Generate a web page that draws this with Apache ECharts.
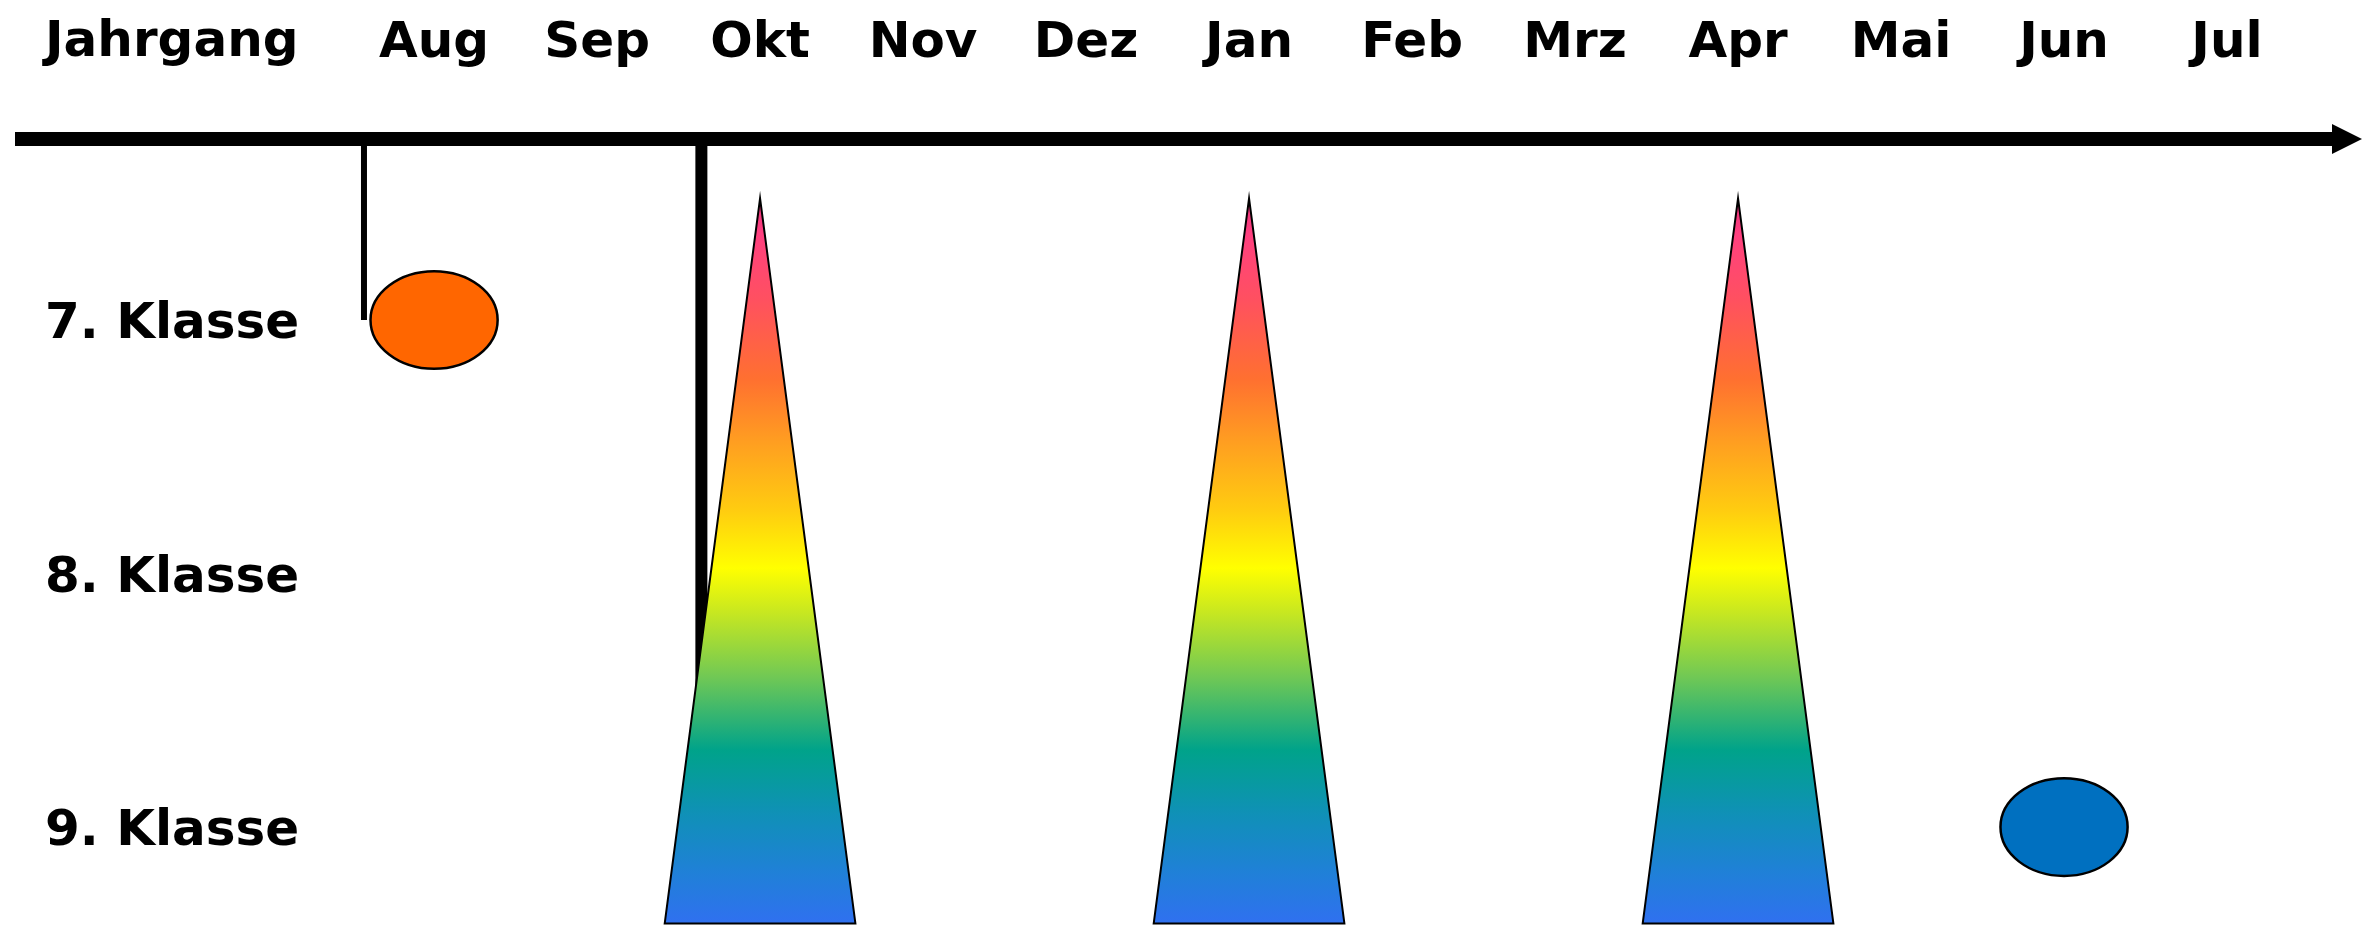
<!DOCTYPE html>
<html>
<head>
<meta charset="utf-8">
<script src="https://cdn.jsdelivr.net/npm/echarts@6/dist/echarts.min.js"></script>
<style>
  html, body { margin: 0; padding: 0; background: #fff; }
  #chart { width: 2372px; height: 926px; }
</style>
</head>
<body>
<div id="chart"></div>
<script>
// ---- data ----
const months = ['Aug', 'Sep', 'Okt', 'Nov', 'Dez', 'Jan', 'Feb', 'Mrz', 'Apr', 'Mai', 'Jun', 'Jul'];
const grades = ['7. Klasse', '8. Klasse', '9. Klasse'];
const headerLabel = 'Jahrgang';
// single events (month, grade)
const eventMonths = ['Aug', 'Jun'];
const eventGrades = ['7. Klasse', '9. Klasse'];
// peak phases (months)
const peakMonths = ['Okt', 'Jan', 'Apr'];
// start markers hanging from the time axis (month position, grade position where they end)
const markerMonthPos = [-0.43, 1.64];
const markerGradePos = [0, 1.48];

// ---- styling / geometry (axis units) ----
const FONT = { fontFamily: 'DejaVu Sans', fontWeight: 'bold', fontSize: 50, color: '#000' };
const X_MIN = -2.571, X_MAX = 11.736;
const Y_MIN = -0.714, Y_MAX = 2.39;
const PEAK_TOP = -0.48, PEAK_BASE = 2.38, PEAK_HALF = 0.585;
const ELL_W = 0.78, ELL_H = 0.385;
const eventColors = ['#FF6600', '#0070C0'];
const markerWidths = [6, 12];
const rainbow = {
  type: 'linear', x: 0, y: 0, x2: 0, y2: 1,
  colorStops: [
    { offset: 0.00, color: '#E8307A' },
    { offset: 0.05, color: '#FF4080' },
    { offset: 0.14, color: '#FF5060' },
    { offset: 0.25, color: '#FF7030' },
    { offset: 0.34, color: '#FFA020' },
    { offset: 0.43, color: '#FFCC10' },
    { offset: 0.51, color: '#FFFF00' },
    { offset: 0.57, color: '#C8E820' },
    { offset: 0.66, color: '#70C855' },
    { offset: 0.76, color: '#00A38A' },
    { offset: 0.85, color: '#1090B8' },
    { offset: 0.93, color: '#2080D8' },
    { offset: 1.00, color: '#3070F0' }
  ]
};

const chart = echarts.init(document.getElementById('chart'), null, { renderer: 'canvas' });

const markerData = markerMonthPos.map((m, i) => [m, markerGradePos[i], markerWidths[i]]);
const eventData = eventMonths.map((m, i) => [months.indexOf(m), grades.indexOf(eventGrades[i]), i]);
const peakData = peakMonths.map(m => [months.indexOf(m), 0]);

chart.setOption({
  animation: false,
  backgroundColor: '#fff',
  title: {
    text: headerLabel,
    left: 45, top: 18, padding: 0,
    textStyle: Object.assign({}, FONT)
  },
  grid: { left: 15, right: 25, top: 139, bottom: 0, containLabel: false },
  xAxis: {
    type: 'value', position: 'top', min: X_MIN, max: X_MAX,
    axisLine: {
      show: true, onZero: false,
      symbol: ['none', 'triangle'], symbolSize: [30, 30],
      lineStyle: { color: '#000', width: 14, cap: 'butt' }
    },
    axisTick: { show: false },
    splitLine: { show: false },
    axisLabel: Object.assign({
      customValues: months.map((m, i) => i),
      formatter: v => months[Math.round(v)] || '',
      margin: 95, verticalAlign: 'middle'
    }, FONT)
  },
  yAxis: {
    type: 'value', inverse: true, min: Y_MIN, max: Y_MAX,
    axisLine: { show: false },
    axisTick: { show: false },
    splitLine: { show: false },
    axisLabel: Object.assign({
      customValues: grades.map((g, i) => i),
      formatter: v => '{g|' + (grades[Math.round(v)] || '') + '}',
      inside: true, margin: 30, align: 'left', verticalAlign: 'middle',
      rich: { g: Object.assign({ padding: [10, 0, 0, 0] }, FONT) }
    }, FONT)
  },
  series: [
    {
      type: 'custom', z: 1, clip: false,
      data: markerData,
      renderItem: (params, api) => {
        const x = api.value(0);
        const p0 = api.coord([x, Y_MIN]);
        const p1 = api.coord([x, api.value(1)]);
        return {
          type: 'line',
          shape: { x1: p0[0], y1: p0[1], x2: p1[0], y2: p1[1] },
          style: { stroke: '#000', lineWidth: api.value(2) }
        };
      }
    },
    {
      type: 'custom', z: 2, clip: false,
      data: peakData,
      renderItem: (params, api) => {
        const x = api.value(0);
        const apex = api.coord([x, PEAK_TOP]);
        const bl = api.coord([x - PEAK_HALF, PEAK_BASE]);
        const br = api.coord([x + PEAK_HALF, PEAK_BASE]);
        return {
          type: 'polygon',
          shape: { points: [apex, br, bl] },
          style: { fill: rainbow, stroke: '#000', lineWidth: 2 }
        };
      }
    },
    {
      type: 'custom', z: 3, clip: false,
      data: eventData,
      renderItem: (params, api) => {
        const c = api.coord([api.value(0), api.value(1)]);
        const s = api.size([ELL_W, ELL_H]);
        return {
          type: 'ellipse',
          shape: { cx: c[0], cy: c[1], rx: s[0] / 2, ry: s[1] / 2 },
          style: { fill: eventColors[api.value(2)], stroke: '#000', lineWidth: 2.5 }
        };
      }
    }
  ]
});
</script>
</body>
</html>
